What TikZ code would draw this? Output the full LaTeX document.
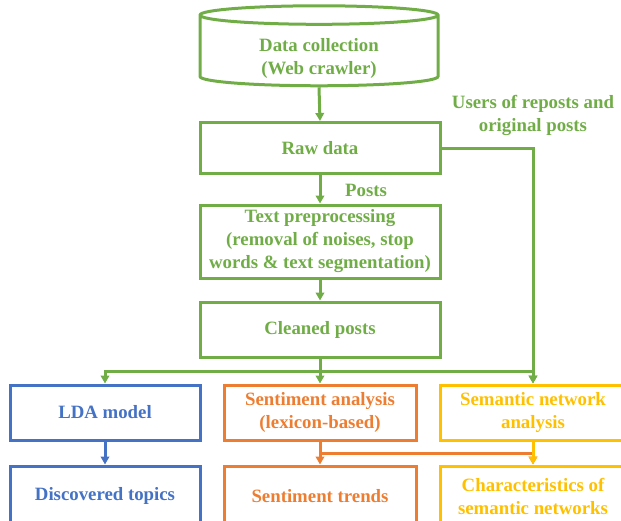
\documentclass[tikz,border=0pt]{standalone}
\usepackage{fontspec}
\setmainfont{Liberation Serif}
\usetikzlibrary{arrows.meta,shapes.geometric}
\definecolor{ggreen}{HTML}{70AD47}
\definecolor{gblue}{HTML}{4472C4}
\definecolor{gorange}{HTML}{ED7D31}
\definecolor{gyellow}{HTML}{FFC000}

\begin{document}
\begin{tikzpicture}[x=1pt, y=-1pt,
  lbl/.style={align=center, inner sep=2pt, font=\fontsize{18.8}{23}\selectfont\bfseries},
  box/.style={lbl, draw, line width=3pt},
  lnk/.style={line width=3pt, -{Triangle[length=8pt,width=8.5pt]}}]
  \useasboundingbox (0,0) rectangle (621,520);
  \clip (0,0) rectangle (621,520);

  % green pipeline
  \node[box, ggreen, cylinder, shape border rotate=90, aspect=0.15,
    minimum width=238pt, minimum height=80pt] (cyl) at (319,52)
    {\raisebox{-6pt}[\height][\depth]{\begin{tabular}{@{}c@{}}Data collection\\(Web crawler)\end{tabular}}};
  \node[box, ggreen, minimum width=240pt, minimum height=51pt] (raw) at (320,148) {Raw data};
  \node[box, ggreen, minimum width=240pt, minimum height=73pt] (prep) at (320,241.5)
    {Text preprocessing\\(removal of noises, stop\\words \& text segmentation)};
  \node[box, ggreen, minimum width=240pt, minimum height=55pt] (clean) at (320,329.5) {Cleaned posts};
  \node[lbl, ggreen] (posts) at (366,190) {Posts};
  \node[lbl, ggreen] (users) at (533,115) {Users of reposts and\\original posts};

  % analyses
  \node[box, gblue, minimum width=190pt, minimum height=55pt] (lda) at (105,412.5) {LDA model};
  \node[box, gorange, minimum width=192pt, minimum height=55pt] (sa) at (320,412.5) {Sentiment analysis\\(lexicon-based)};
  \node[box, gyellow, minimum width=186pt, minimum height=55pt] (sna) at (533,412.5) {Semantic network\\analysis};

  % results
  \node[box, gblue, minimum width=190pt, minimum height=60pt] (topics) at (105,496) {Discovered topics};
  \node[box, gorange, minimum width=192pt, minimum height=60pt] (trends) at (320,496) {Sentiment trends};
  \node[box, gyellow, minimum width=186pt, minimum height=60pt] (chars) at (533,496) {Characteristics of\\semantic networks};

  \draw[lnk, ggreen] (cyl.south) -- (raw.north);
  \draw[lnk, ggreen] (raw) -- (prep);
  \draw[lnk, ggreen] (prep) -- (clean);
  \draw[lnk, ggreen] (raw.east) -| (sna.north);
  \draw[lnk, ggreen] (clean.south) -- ++(0,13) -| (lda.north);
  \draw[lnk, ggreen] (clean.south) -- ++(0,13) -| (sna.north);
  \draw[lnk, ggreen] (clean) -- (sa);
  \draw[lnk, gblue] (lda) -- (topics);
  \draw[lnk, gorange] (sa) -- (trends);
  \draw[lnk, gorange] (sa.south) -- ++(0,12) -| (chars.north);
  \draw[lnk, gyellow] (sna) -- (chars);
\end{tikzpicture}
\end{document}
